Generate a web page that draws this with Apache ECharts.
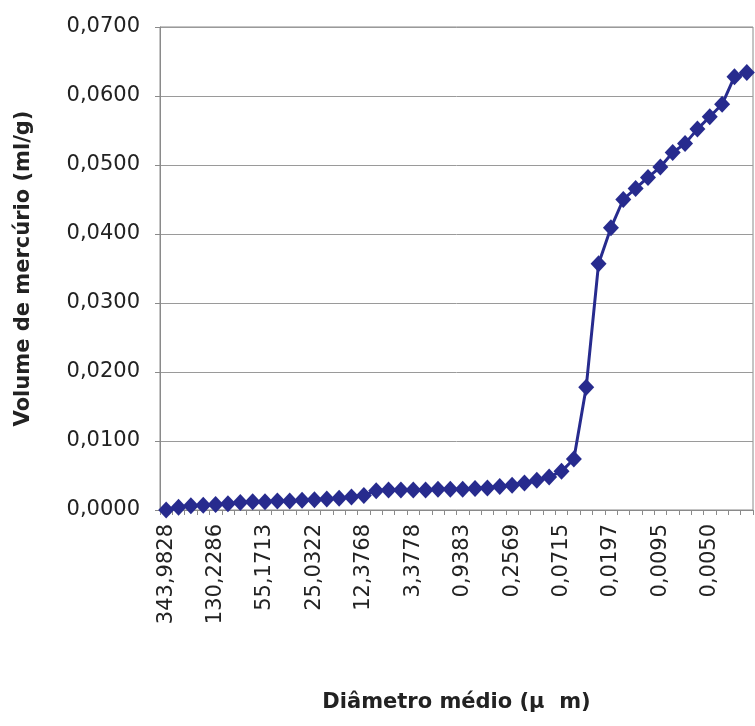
<!DOCTYPE html>
<html>
<head>
<meta charset="utf-8">
<script src="https://cdn.jsdelivr.net/npm/echarts@6/dist/echarts.min.js"></script>
<style>
  html, body { margin: 0; padding: 0; background: #fff; }
  #chart { width: 755px; height: 726px; }
</style>
</head>
<body>
<div id="chart"></div>
<script>
// rótulos do eixo x (um a cada 4 pontos)
var tickLabels = ['343,9828', '130,2286', '55,1713', '25,0322', '12,3768', '3,3778',
  '0,9383', '0,2569', '0,0715', '0,0197', '0,0095', '0,0050'];
var labelStep = 4;

// volume de mercúrio intrudido (ml/g), 48 pontos
var volume = [
  0.0000, 0.0004, 0.0006, 0.0007, 0.0008, 0.0009, 0.0011, 0.0012,
  0.0012, 0.0013, 0.0013, 0.0014, 0.0015, 0.0016, 0.0017, 0.0019,
  0.0021, 0.0028, 0.0029, 0.0029, 0.0029, 0.0029, 0.0030, 0.0030,
  0.0030, 0.0031, 0.0032, 0.0034, 0.0036, 0.0039, 0.0043, 0.0048,
  0.0056, 0.0074, 0.0178, 0.0357, 0.0409, 0.0450, 0.0466, 0.0482,
  0.0497, 0.0518, 0.0531, 0.0552, 0.0570, 0.0588, 0.0628, 0.0634
];

var categories = volume.map(function (v, i) { return String(i); });

var chart = echarts.init(document.getElementById('chart'));
var lineColor = '#272b8e';
var gray = '#8a8a8a';

chart.setOption({
  backgroundColor: '#fff',
  animation: false,
  grid: {
    left: 160, right: 2, top: 27, bottom: 216,
    show: true, borderColor: gray, borderWidth: 1
  },
  xAxis: {
    type: 'category',
    data: categories,
    boundaryGap: true,
    name: 'Diâmetro médio (μ  m)',
    nameLocation: 'middle',
    nameGap: 182,
    nameTextStyle: { fontFamily: 'DejaVu Sans', fontWeight: 'bold', fontSize: 21, color: '#222' },
    axisLine: { lineStyle: { color: gray, width: 1 } },
    axisTick: { show: true, interval: 0, length: 5, lineStyle: { color: gray } },
    axisLabel: {
      interval: labelStep - 1,
      rotate: 90,
      margin: 14,
      fontFamily: 'DejaVu Sans',
      fontSize: 21,
      color: '#222',
      formatter: function (v, i) { return tickLabels[i / labelStep] || ''; }
    },
    splitLine: { show: false }
  },
  yAxis: {
    type: 'value',
    min: 0, max: 0.07, interval: 0.01,
    name: 'Volume de mercúrio (ml/g)',
    nameLocation: 'middle',
    nameGap: 126,
    nameTextStyle: { fontFamily: 'DejaVu Sans', fontWeight: 'bold', fontSize: 21, color: '#222' },
    axisLine: { show: true, lineStyle: { color: gray, width: 1 } },
    axisTick: { show: true, length: 5, lineStyle: { color: gray } },
    axisLabel: {
      margin: 20,
      fontFamily: 'DejaVu Sans',
      fontSize: 21,
      color: '#222',
      formatter: function (v) { return v.toFixed(4).replace('.', ','); }
    },
    splitLine: { show: true, lineStyle: { color: '#9a9a9a', width: 1 } }
  },
  series: [{
    type: 'line',
    data: volume,
    symbol: 'diamond',
    symbolSize: [16, 17],
    showAllSymbol: true,
    lineStyle: { color: lineColor, width: 3 },
    itemStyle: { color: lineColor },
    z: 3
  }]
});
</script>
</body>
</html>
